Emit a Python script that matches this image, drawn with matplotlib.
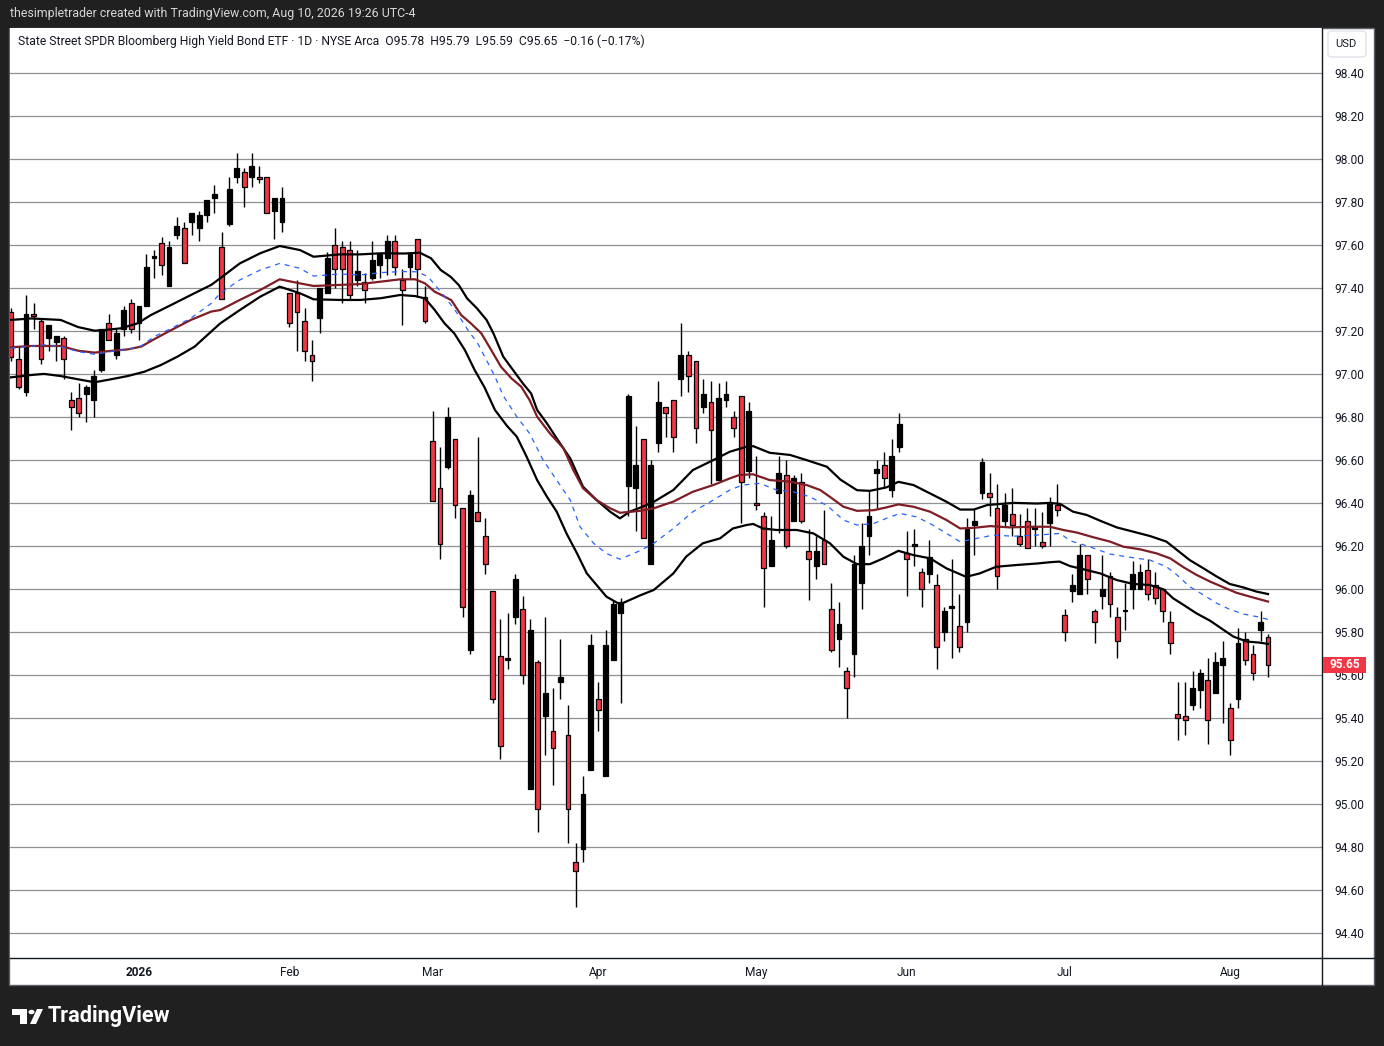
import numpy as np
import matplotlib.pyplot as plt
from matplotlib.patches import Rectangle, FancyBboxPatch, Circle, Polygon
from matplotlib.transforms import blended_transform_factory


# Daily candles, Dec 8 2025 .. Aug 10 2026 (index = trading day)
opens = [97.29, 97.07, 96.92, 97.28, 97.25, 97.17, 97.15, 97.17, 96.88, 96.89,
         96.91, 96.88, 97.02, 97.24, 97.09, 97.21, 97.33, 97.24, 97.32, 97.54,
         97.61, 97.41, 97.65, 97.68, 97.71, 97.68, 97.74, 97.82, 97.59, 97.70,
         97.92, 97.94, 97.92, 97.92, 97.92, 97.76, 97.71, 97.38, 97.38, 97.25,
         97.09, 97.26, 97.38, 97.60, 97.59, 97.58, 97.44, 97.43, 97.45, 97.51,
         97.54, 97.62, 97.44, 97.50, 97.63, 97.36, 96.69, 96.47, 96.57, 96.70,
         96.38, 95.72, 96.36, 96.25, 95.99, 95.69, 95.67, 95.87, 95.91, 95.07,
         95.66, 95.41, 95.34, 95.57, 95.32, 94.73, 94.79, 95.16, 95.49, 95.13,
         95.67, 95.89, 96.48, 96.47, 96.70, 96.12, 96.68, 96.85, 96.88, 96.98,
         97.09, 97.06, 96.85, 96.87, 96.51, 96.88, 96.80, 96.90, 96.55, 96.40,
         96.34, 96.11, 96.45, 96.53, 96.32, 96.50, 96.18, 96.11, 96.23, 95.91,
         95.77, 95.62, 95.70, 96.03, 96.25, 96.54, 96.58, 96.46, 96.66, 96.17,
         96.20, 96.08, 96.07, 96.02, 95.80, 95.915, 95.83, 95.85, 96.30, 96.45,
         96.45, 96.38, 96.32, 96.35, 96.25, 96.32, 96.28, 96.22, 96.31, 96.39,
         95.88, 95.99, 95.98, 96.16, 95.90, 95.97, 96.06, 95.87, 95.90, 96.00,
         96.00, 96.09, 96.02, 96.00, 95.85, 95.42, 95.41, 95.46, 95.53, 95.58,
         95.52, 95.65, 95.45, 95.49, 95.77, 95.70, 95.81, 95.78]
highs = [97.31, 97.13, 97.37, 97.33, 97.26, 97.23, 97.18, 97.18, 96.92, 96.96,
         96.95, 97.02, 97.21, 97.28, 97.21, 97.32, 97.35, 97.32, 97.56, 97.58,
         97.64, 97.62, 97.73, 97.71, 97.75, 97.76, 97.81, 97.88, 97.66, 97.92,
         98.03, 97.96, 98.03, 97.97, 97.92, 97.82, 97.87, 97.38, 97.44, 97.31,
         97.16, 97.40, 97.57, 97.68, 97.62, 97.62, 97.58, 97.47, 97.62, 97.56,
         97.65, 97.65, 97.49, 97.56, 97.63, 97.41, 96.83, 96.66, 96.85, 96.70,
         96.38, 96.46, 96.71, 96.33, 95.99, 95.86, 95.89, 96.07, 95.97, 95.86,
         95.67, 95.87, 95.54, 95.77, 95.46, 94.82, 95.13, 95.79, 95.57, 95.81,
         95.95, 95.96, 96.91, 96.76, 96.70, 96.60, 96.97, 96.85, 96.88, 97.24,
         97.11, 97.06, 96.98, 96.97, 96.96, 96.97, 96.83, 96.90, 96.87, 96.62,
         96.36, 96.34, 96.62, 96.60, 96.53, 96.54, 96.28, 96.25, 96.37, 96.03,
         95.94, 95.64, 96.16, 96.31, 96.46, 96.60, 96.64, 96.70, 96.82, 96.27,
         96.28, 96.10, 96.23, 96.07, 95.92, 96.14, 95.98, 96.33, 96.38, 96.61,
         96.54, 96.49, 96.45, 96.47, 96.35, 96.38, 96.38, 96.36, 96.43, 96.49,
         95.91, 96.07, 96.21, 96.16, 95.91, 96.16, 96.08, 95.92, 96.03, 96.13,
         96.12, 96.14, 96.08, 96.00, 95.90, 95.57, 95.57, 95.62, 95.63, 95.68,
         95.71, 95.76, 95.47, 95.82, 95.80, 95.74, 95.90, 95.79]
lows = [97.06, 96.93, 96.90, 97.21, 97.05, 97.11, 97.06, 96.98, 96.74, 96.80,
        96.78, 96.80, 97.01, 97.16, 97.07, 97.18, 97.19, 97.16, 97.32, 97.45,
        97.46, 97.41, 97.63, 97.52, 97.65, 97.62, 97.71, 97.75, 97.35, 97.69,
        97.89, 97.78, 97.87, 97.89, 97.75, 97.63, 97.66, 97.22, 97.11, 97.06,
        96.97, 97.19, 97.38, 97.40, 97.33, 97.35, 97.41, 97.33, 97.44, 97.45,
        97.46, 97.46, 97.23, 97.45, 97.36, 97.24, 96.41, 96.14, 96.56, 96.33,
        95.87, 95.70, 96.32, 96.07, 95.47, 95.21, 95.63, 95.84, 95.56, 95.07,
        94.87, 95.23, 95.09, 95.49, 94.82, 94.52, 94.73, 95.16, 95.34, 95.13,
        95.67, 95.47, 96.34, 96.27, 96.24, 96.12, 96.64, 96.71, 96.64, 96.90,
        96.92, 96.68, 96.82, 96.49, 96.51, 96.85, 96.71, 96.31, 96.52, 96.37,
        95.92, 96.11, 96.26, 96.19, 96.32, 96.31, 95.95, 96.05, 96.12, 95.71,
        95.64, 95.40, 95.59, 95.91, 96.16, 96.38, 96.47, 96.43, 96.64, 95.97,
        96.11, 95.92, 96.03, 95.63, 95.76, 95.68, 95.71, 95.80, 96.16, 96.42,
        96.34, 96.00, 96.29, 96.25, 96.20, 96.19, 96.20, 96.19, 96.20, 96.34,
        95.76, 95.94, 95.98, 95.98, 95.75, 95.91, 95.87, 95.68, 95.81, 95.91,
        96.00, 95.95, 95.93, 95.85, 95.70, 95.30, 95.32, 95.44, 95.45, 95.28,
        95.52, 95.38, 95.23, 95.45, 95.65, 95.58, 95.76, 95.59]
closes = [97.08, 96.94, 97.28, 97.27, 97.07, 97.23, 97.18, 97.07, 96.85, 96.82,
          96.94, 96.99, 97.21, 97.16, 97.19, 97.30, 97.21, 97.32, 97.50, 97.55,
          97.51, 97.59, 97.69, 97.52, 97.75, 97.74, 97.81, 97.84, 97.35, 97.86,
          97.96, 97.87, 97.97, 97.91, 97.75, 97.82, 97.82, 97.24, 97.29, 97.11,
          97.06, 97.40, 97.54, 97.49, 97.49, 97.37, 97.48, 97.39, 97.53, 97.56,
          97.62, 97.50, 97.39, 97.56, 97.49, 97.25, 96.41, 96.21, 96.80, 96.39,
          95.92, 96.44, 96.32, 96.12, 95.49, 95.27, 95.68, 96.05, 95.60, 95.81,
          94.98, 95.52, 95.26, 95.59, 94.98, 94.69, 95.05, 95.74, 95.44, 95.74,
          95.93, 95.94, 96.90, 96.58, 96.24, 96.58, 96.87, 96.82, 96.71, 97.09,
          96.99, 96.75, 96.91, 96.74, 96.89, 96.91, 96.75, 96.50, 96.83, 96.39,
          96.10, 96.23, 96.54, 96.20, 96.52, 96.32, 96.14, 96.18, 96.12, 95.72,
          95.84, 95.54, 96.12, 96.20, 96.34, 96.56, 96.52, 96.62, 96.77, 96.14,
          96.21, 96.00, 96.15, 95.73, 95.90, 95.92, 95.73, 96.28, 96.32, 96.59,
          96.43, 96.06, 96.39, 96.30, 96.21, 96.19, 96.29, 96.20, 96.40, 96.37,
          95.80, 96.02, 96.16, 96.05, 95.85, 96.00, 95.93, 95.76, 95.905, 96.07,
          96.08, 95.98, 95.96, 95.90, 95.75, 95.40, 95.39, 95.54, 95.61, 95.39,
          95.66, 95.68, 95.30, 95.75, 95.67, 95.61, 95.85, 95.65]

# Indicator lines: (bar index, price)
upper_band = [(0, 97.253), (2.7, 97.26), (6.6, 97.253), (8.9, 97.22), (11.1, 97.203),
              (12.4, 97.206), (14.6, 97.214), (16.8, 97.237), (18.6, 97.276), (21.3, 97.323),
              (23.9, 97.369), (26.6, 97.416), (27.8, 97.447), (30.4, 97.516), (33.1, 97.563),
              (35.7, 97.597), (38.4, 97.578), (40.2, 97.547), (43.7, 97.558), (46.4, 97.558),
              (49.1, 97.563), (52.3, 97.562), (54.3, 97.566), (55.8, 97.54), (57.1, 97.485),
              (58.4, 97.454), (59.5, 97.415), (60.6, 97.353), (61.9, 97.307), (63.2, 97.252),
              (64.1, 97.19), (65.4, 97.082), (66.7, 97.02), (68.0, 96.958), (69.1, 96.911),
              (69.9, 96.834), (71.2, 96.772), (72.5, 96.702), (74.3, 96.609), (76.0, 96.477),
              (77.8, 96.415), (79.6, 96.361), (80.9, 96.33), (82.2, 96.361), (83.6, 96.38),
              (85.4, 96.407), (88.0, 96.462), (90.6, 96.555), (93.3, 96.601), (95.5, 96.64),
              (97.7, 96.663), (98.6, 96.666), (100.8, 96.635), (103.5, 96.625), (105.7, 96.601),
              (108.4, 96.57), (110.2, 96.51), (112.4, 96.461), (114.1, 96.458), (116.3, 96.474),
              (117.9, 96.5), (119.9, 96.485), (122.1, 96.446), (124.3, 96.407), (126.1, 96.371),
              (127.9, 96.371), (129.7, 96.392), (133.2, 96.402), (136.3, 96.399), (138.0, 96.402),
              (139.4, 96.397), (141.1, 96.361), (142.9, 96.346), (144.7, 96.319), (146.9, 96.288),
              (149.1, 96.268), (151.3, 96.248), (153.5, 96.222), (154.9, 96.183), (156.6, 96.136),
              (158.4, 96.098), (160.2, 96.059), (161.9, 96.025), (163.7, 96.009), (165.5, 95.989),
              (167.0, 95.978)]
red_line = [(0, 97.126), (2.7, 97.132), (6.6, 97.132), (8.9, 97.11), (11.1, 97.101),
            (13.3, 97.109), (15.5, 97.116), (17.3, 97.129), (19.0, 97.163), (21.3, 97.206),
            (23.9, 97.253), (26.6, 97.292), (27.8, 97.299), (30.4, 97.346), (33.1, 97.392),
            (35.7, 97.442), (38.4, 97.423), (40.2, 97.411), (43.7, 97.416), (46.4, 97.42),
            (49.1, 97.431), (51.7, 97.442), (53.7, 97.442), (55.0, 97.423), (56.3, 97.384),
            (57.2, 97.369), (58.5, 97.345), (59.8, 97.276), (61.1, 97.237), (62.5, 97.19),
            (63.8, 97.113), (65.1, 97.035), (66.5, 96.981), (67.8, 96.942), (68.9, 96.88),
            (69.9, 96.803), (71.6, 96.725), (73.4, 96.656), (74.7, 96.555), (76.0, 96.47),
            (77.8, 96.415), (79.6, 96.377), (80.9, 96.356), (83.6, 96.365), (85.4, 96.377),
            (88.0, 96.408), (90.6, 96.454), (93.3, 96.485), (95.5, 96.516), (96.8, 96.532),
            (98.6, 96.535), (100.8, 96.508), (103.5, 96.501), (105.7, 96.485), (107.5, 96.462),
            (108.8, 96.43), (110.6, 96.384), (112.4, 96.365), (114.6, 96.368), (116.3, 96.381),
            (117.9, 96.395), (119.9, 96.384), (122.1, 96.361), (124.3, 96.322), (126.1, 96.283),
            (127.9, 96.286), (130.1, 96.294), (132.7, 96.288), (135.4, 96.291), (138.0, 96.291),
            (139.8, 96.276), (141.6, 96.264), (143.8, 96.242), (146.0, 96.222), (147.8, 96.198),
            (150.0, 96.186), (152.2, 96.167), (154.0, 96.144), (155.8, 96.102), (157.5, 96.067),
            (159.3, 96.036), (161.1, 96.009), (162.8, 95.984), (164.6, 95.966), (167.0, 95.943)]
blue_line = [(0, 97.121), (4.4, 97.137), (6.6, 97.129), (8.9, 97.106), (11.1, 97.093),
             (13.3, 97.106), (15.5, 97.116), (17.3, 97.132), (19.0, 97.175), (21.3, 97.214),
             (23.9, 97.261), (26.6, 97.33), (27.8, 97.377), (30.4, 97.439), (33.1, 97.485),
             (35.7, 97.516), (38.4, 97.493), (40.2, 97.457), (43.7, 97.467), (46.4, 97.462),
             (49.1, 97.473), (51.7, 97.478), (54.0, 97.477), (55.4, 97.454), (56.7, 97.4),
             (58.0, 97.345), (59.3, 97.283), (60.7, 97.206), (62.0, 97.144), (63.4, 97.051),
             (64.3, 96.989), (65.4, 96.9), (67.2, 96.803), (68.9, 96.725), (70.7, 96.601),
             (72.5, 96.508), (74.3, 96.415), (75.6, 96.291), (77.4, 96.214), (79.1, 96.167),
             (80.9, 96.14), (83.6, 96.18), (85.4, 96.214), (88.0, 96.283), (90.6, 96.361),
             (93.3, 96.415), (95.5, 96.462), (97.2, 96.485), (99.5, 96.493), (101.7, 96.462),
             (103.9, 96.454), (106.1, 96.431), (108.4, 96.39), (110.6, 96.322), (112.4, 96.299),
             (114.6, 96.306), (116.3, 96.33), (118.1, 96.353), (120.3, 96.337), (122.1, 96.306),
             (124.3, 96.26), (126.1, 96.221), (128.3, 96.237), (130.5, 96.252), (133.2, 96.247),
             (136.3, 96.252), (139.4, 96.26), (140.7, 96.226), (143.3, 96.198), (146.0, 96.164),
             (148.7, 96.149), (151.3, 96.136), (153.5, 96.105), (154.9, 96.067), (156.6, 96.012),
             (158.4, 95.974), (160.2, 95.935), (161.9, 95.907), (163.7, 95.885), (165.5, 95.873),
             (167.0, 95.86)]
lower_band = [(0, 96.986), (2.7, 96.997), (4.4, 97.002), (6.6, 96.992), (8.9, 96.977),
              (11.1, 96.963), (13.3, 96.977), (15.5, 96.992), (17.7, 97.012), (19.9, 97.043),
              (22.1, 97.082), (24.4, 97.129), (26.6, 97.199), (27.8, 97.237), (30.4, 97.299),
              (33.1, 97.361), (35.7, 97.408), (38.4, 97.377), (40.2, 97.349), (43.7, 97.346),
              (46.4, 97.346), (49.1, 97.354), (51.7, 97.369), (53.7, 97.364), (55.0, 97.353),
              (56.3, 97.299), (57.6, 97.237), (58.9, 97.19), (60.3, 97.113), (61.6, 97.02),
              (62.9, 96.94), (64.3, 96.834), (65.9, 96.76), (67.2, 96.71), (68.5, 96.617),
              (69.9, 96.508), (71.2, 96.431), (72.5, 96.361), (73.8, 96.26), (75.2, 96.167),
              (76.5, 96.074), (77.8, 96.02), (79.1, 95.966), (80.9, 95.93), (83.6, 95.972),
              (85.4, 95.997), (88.0, 96.074), (89.7, 96.152), (91.9, 96.214), (94.2, 96.237),
              (95.9, 96.283), (97.7, 96.299), (98.6, 96.304), (99.9, 96.283), (101.7, 96.276),
              (104.4, 96.276), (106.6, 96.26), (108.8, 96.214), (110.6, 96.151), (112.4, 96.117),
              (114.1, 96.117), (115.9, 96.144), (117.9, 96.179), (119.9, 96.159), (122.1, 96.144),
              (124.3, 96.097), (126.9, 96.058), (128.7, 96.074), (130.9, 96.105), (133.6, 96.113),
              (136.3, 96.12), (138.0, 96.126), (139.3, 96.129), (140.7, 96.108), (142.5, 96.093),
              (144.7, 96.074), (146.9, 96.043), (149.1, 96.025), (151.3, 96.02), (153.1, 96.0),
              (154.4, 95.958), (155.8, 95.927), (157.5, 95.888), (159.3, 95.854), (161.1, 95.811),
              (162.4, 95.78), (164.2, 95.757), (165.9, 95.752), (167.0, 95.746)]

month_pos = [17, 37, 56, 78, 99, 119, 140, 162]
month_labels = ['2026', 'Feb', 'Mar', 'Apr', 'May', 'Jun', 'Jul', 'Aug']
price_ticks = [94.4, 94.6, 94.8, 95.0, 95.2, 95.4, 95.6, 95.8, 96.0, 96.2,
               96.4, 96.6, 96.8, 97.0, 97.2, 97.4, 97.6, 97.8, 98.0, 98.2, 98.4]
last_price = 95.65

header = 'thesimpletrader created with TradingView.com, Aug 10, 2026 19:26 UTC-4'
legend = ('State Street SPDR Bloomberg High Yield Bond ETF \u00b7 1D \u00b7 NYSE Arca  '
          'O95.78  H95.79  L95.59  C95.65  \u22120.16 (\u22120.17%)')

W, H = 1384, 1046


def fx(px):
    return px / W


def fy(py):
    return 1 - py / H


plt.rcParams['font.family'] = ['Roboto', 'DejaVu Sans']

fig = plt.figure(figsize=(W / 100, H / 100), dpi=100, facecolor='#202020')

# white chart panel
fig.patches.append(Rectangle((fx(9), fy(985)), fx(1374) - fx(9), fy(28) - fy(985),
                             transform=fig.transFigure, facecolor='white',
                             edgecolor='#5d606b', lw=1, zorder=-5))

ax = fig.add_axes([fx(10), fy(958), fx(1322) - fx(10), fy(28) - fy(958)])
ax.set_xlim(-0.13, 174.17)
ax.set_ylim(94.285, 98.611)
for s in ax.spines.values():
    s.set_visible(False)

for p in price_ticks:
    ax.axhline(p, color='#8e9096', lw=0.9, zorder=0)

# candles
o = np.array(opens)
h = np.array(highs)
l = np.array(lows)
c = np.array(closes)
idx = np.arange(len(c))
up = c >= o
ax.vlines(idx, l, h, color='black', lw=1.0, zorder=2)
ax.bar(idx, np.maximum(np.abs(c - o), 0.006), bottom=np.minimum(o, c), width=0.64,
       color=np.where(up, 'black', '#f23645'), edgecolor='black', linewidth=0.9, zorder=3)

# indicator lines
ax.plot(*zip(*upper_band), color='black', lw=1.6, zorder=4)
ax.plot(*zip(*lower_band), color='black', lw=1.6, zorder=4)
ax.plot(*zip(*red_line), color='#7f1d24', lw=1.6, zorder=4)
ax.plot(*zip(*blue_line), color='#2962ff', lw=0.9, ls=(0, (4, 4)), zorder=4)

# axes ticks
ax.yaxis.tick_right()
ax.set_yticks(price_ticks)
ax.set_yticklabels([f'{p:.2f}' for p in price_ticks])
ax.tick_params(axis='y', length=0, pad=9, labelsize=8.6, labelcolor='#131722')
ax.set_xticks(month_pos)
ax.set_xticklabels(month_labels)
ax.tick_params(axis='x', length=0, pad=6, labelsize=8.6, labelcolor='#131722')
ax.get_xticklabels()[0].set_fontweight('bold')

# separators between plot and scales
fig.add_artist(plt.Line2D([fx(1322), fx(1322)], [fy(28), fy(985)], color='#131722', lw=1))
fig.add_artist(plt.Line2D([fx(10), fx(1374)], [fy(958), fy(958)], color='#131722', lw=1))

# texts
fig.text(fx(10), fy(14), header, color='#d6d6d6', fontsize=8.9, ha='left', va='center')
fig.text(fx(18), fy(41), legend, color='#131722', fontsize=8.7, ha='left', va='center')

fig.patches.append(FancyBboxPatch((fx(1328), fy(57)), fx(1366) - fx(1328), fy(31) - fy(57),
                                  boxstyle='round,pad=0,rounding_size=0.003',
                                  transform=fig.transFigure, facecolor='white',
                                  edgecolor='#e0e3eb', lw=1, zorder=2))
fig.text(fx(1346), fy(44), 'USD', color='#131722', fontsize=8, ha='center', va='center')

# last price marker
trans = blended_transform_factory(fig.transFigure, ax.transData)
fig.patches.append(Rectangle((fx(1323), last_price - 0.037), fx(1366) - fx(1323), 0.074,
                             transform=trans, facecolor='#f23645', edgecolor='none', zorder=5))
fig.text(fx(1344.5), last_price, f'{last_price:.2f}', transform=trans, color='white',
         fontsize=8.6, fontweight='bold', ha='center', va='center', zorder=6)

# TradingView logo
logo = [
    Polygon([(fx(12), fy(1009)), (fx(27), fy(1009)), (fx(27), fy(1024)), (fx(20), fy(1024)),
             (fx(20), fy(1015)), (fx(12), fy(1015))], closed=True),
    Polygon([(fx(30), fy(1024)), (fx(37), fy(1009)), (fx(43), fy(1009)), (fx(36), fy(1024))],
            closed=True),
]
for p in logo:
    p.set_transform(fig.transFigure)
    p.set_facecolor('white')
    p.set_edgecolor('none')
    fig.patches.append(p)
fig.patches.append(Circle((fx(31.5), fy(1012)), 3 / W, transform=fig.transFigure,
                          facecolor='white', edgecolor='none'))
fig.text(fx(48), fy(1016), 'TradingView', color='white', fontsize=15.6, fontweight='bold',
         ha='left', va='center')

fig.savefig('out.png', dpi=100, facecolor=fig.get_facecolor())
